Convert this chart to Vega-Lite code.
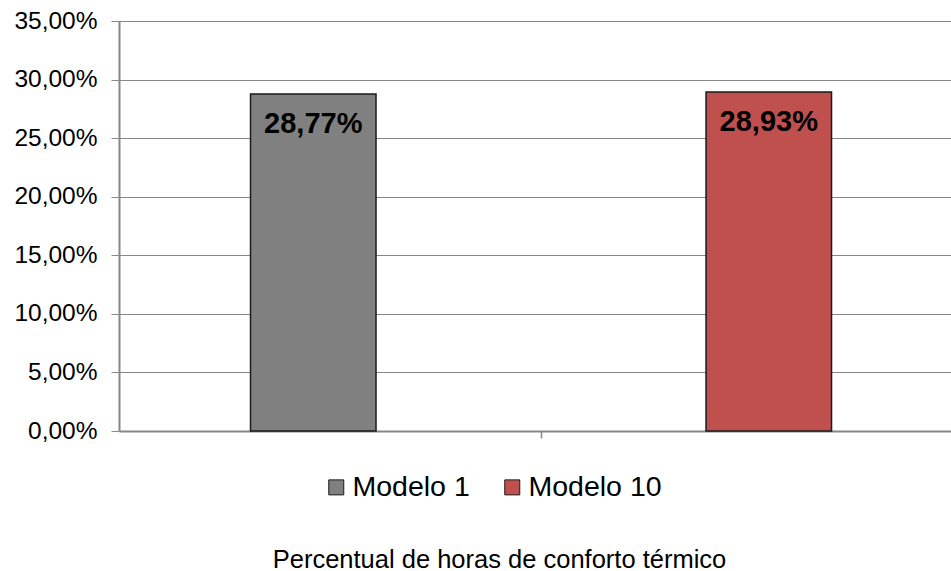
{
  "$schema": "https://vega.github.io/schema/vega-lite/v6.json",
  "width": 832,
  "height": 410,
  "autosize": {"type": "none"},
  "padding": {"left": 119, "top": 21, "right": 0, "bottom": 140},
  "background": "white",
  "config": {
    "view": {"stroke": null},
    "font": "Liberation Sans",
    "locale": {"number": {"decimal": ",", "thousands": ".", "grouping": [3], "currency": ["", " €"]}}
  },
  "data": {"values": [
    {"modelo": "Modelo 1", "valor": 0.2877},
    {"modelo": "Modelo 10", "valor": 0.2893}
  ]},
  "encoding": {
    "x": {
      "field": "modelo", "type": "nominal", "sort": ["Modelo 1", "Modelo 10"],
      "scale": {"paddingInner": 0.7245, "paddingOuter": 0.2755, "align": 0.524},
      "axis": {
        "labels": false, "values": ["Modelo 10"], "bandPosition": -1.315,
        "tickSize": 7, "tickColor": "#878787", "tickWidth": 1.5,
        "domainColor": "#878787", "domainWidth": 2, "grid": false,
        "title": "Percentual de horas de conforto térmico",
        "titleFont": "Liberation Sans", "titleFontSize": 25.5, "titleFontWeight": "normal", "titleColor": "black",
        "titleX": 380, "titleY": 136, "titleBaseline": "alphabetic", "titleAlign": "center", "titleAngle": 0
      }
    },
    "y": {
      "field": "valor", "type": "quantitative",
      "scale": {"domain": [0, 0.35], "nice": false},
      "axis": {
        "values": [0, 0.05, 0.1, 0.15, 0.2, 0.25, 0.3, 0.35],
        "format": ".2%", "title": null,
        "labelFont": "Liberation Sans", "labelFontSize": 24.5, "labelColor": "black",
        "labelPadding": 14, "labelBaseline": "middle",
        "tickSize": 8, "tickColor": "#878787", "tickWidth": 1,
        "gridColor": "#878787", "gridWidth": 1,
        "domainColor": "#878787", "domainWidth": 2
      }
    }
  },
  "layer": [
    {
      "mark": {"type": "bar", "stroke": "#1a1a1a", "strokeWidth": 1.5},
      "encoding": {
        "color": {
          "field": "modelo", "type": "nominal", "sort": ["Modelo 1", "Modelo 10"],
          "scale": {"domain": ["Modelo 1", "Modelo 10"], "range": ["#808080", "#C0504D"]},
          "legend": {
            "orient": "none", "legendX": 203, "legendY": 452, "direction": "horizontal",
            "title": null, "labelFont": "Liberation Sans", "labelFontSize": 28.5, "labelColor": "black",
            "symbolType": "square", "symbolSize": 225, "labelOffset": 2, "columnPadding": 28,
            "symbolStrokeColor": "#1a1a1a", "symbolStrokeWidth": 1
          }
        }
      }
    },
    {
      "mark": {"type": "text", "font": "Liberation Sans", "fontWeight": "bold", "fontSize": 29, "baseline": "alphabetic", "dy": 39, "color": "black"},
      "encoding": {"text": {"field": "valor", "type": "quantitative", "format": ".2%"}}
    }
  ]
}
